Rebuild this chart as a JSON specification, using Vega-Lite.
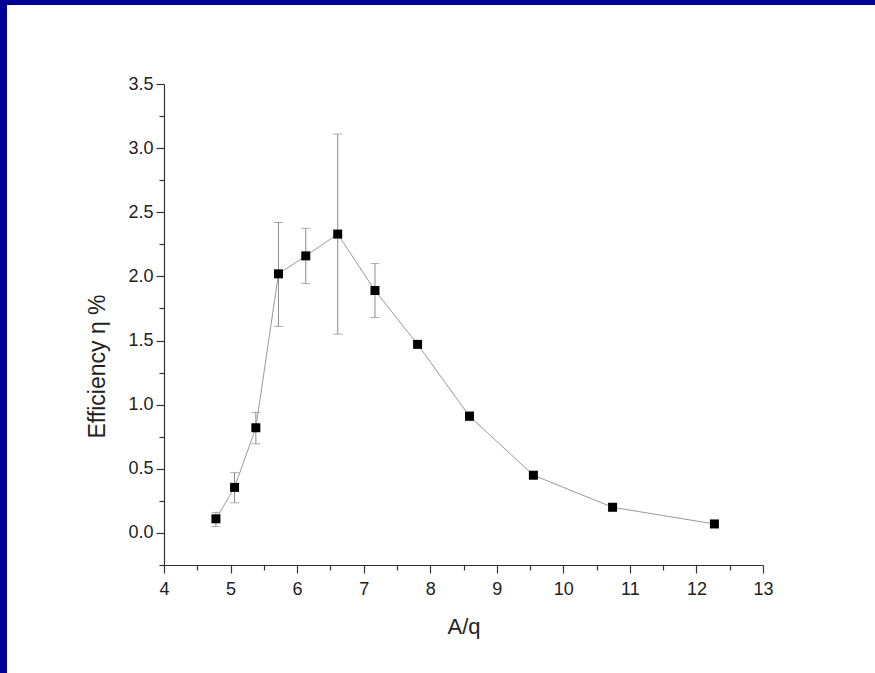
{
  "$schema": "https://vega.github.io/schema/vega-lite/v6.json",
  "width": 599,
  "height": 481,
  "autosize": "none",
  "padding": {"left": 164, "top": 84, "right": 112, "bottom": 108},
  "background": "white",
  "config": {
    "view": {"stroke": null},
    "font": "Liberation Sans",
    "axis": {
      "domainColor": "#333333",
      "domainWidth": 1.2,
      "tickColor": "#333333",
      "tickWidth": 1.2,
      "labelColor": "#222222",
      "labelFontSize": 18,
      "titleColor": "#222222",
      "titleFontSize": 22,
      "titleFontWeight": "normal",
      "grid": false
    }
  },
  "data": {
    "values": [
      {"aq": 4.78, "eff": 0.11, "lo": 0.05, "hi": 0.16},
      {"aq": 5.06, "eff": 0.355, "lo": 0.235, "hi": 0.47},
      {"aq": 5.38, "eff": 0.82, "lo": 0.695, "hi": 0.94},
      {"aq": 5.72, "eff": 2.02, "lo": 1.61, "hi": 2.42},
      {"aq": 6.13, "eff": 2.16, "lo": 1.945, "hi": 2.375},
      {"aq": 6.61, "eff": 2.33, "lo": 1.55, "hi": 3.11},
      {"aq": 7.17, "eff": 1.89, "lo": 1.68, "hi": 2.1},
      {"aq": 7.81, "eff": 1.47, "lo": null, "hi": null},
      {"aq": 8.59, "eff": 0.91, "lo": 0.875, "hi": 0.945},
      {"aq": 9.55, "eff": 0.45, "lo": null, "hi": null},
      {"aq": 10.74, "eff": 0.2, "lo": null, "hi": null},
      {"aq": 12.27, "eff": 0.07, "lo": null, "hi": null}
    ]
  },
  "resolve": {"axis": {"x": "independent", "y": "independent"}},
  "layer": [
    {
      "data": {"values": [{}]},
      "mark": {"type": "rect", "color": "#000099"},
      "encoding": {
        "x": {"datum": 0, "type": "quantitative", "scale": {"domain": [4, 13], "nice": false, "zero": false},
          "axis": {"orient": "bottom", "values": [4.5, 5.5, 6.5, 7.5, 8.5, 9.5, 10.5, 11.5, 12.5], "labels": false, "domain": false, "tickSize": 5, "title": null}},
        "x2": {"datum": 1.641},
        "y": {"datum": -2, "type": "quantitative", "scale": {"domain": [-0.25, 3.5], "nice": false, "zero": false},
          "axis": {"orient": "left", "values": [-0.25, 0.25, 0.75, 1.25, 1.75, 2.25, 2.75, 3.25], "labels": false, "domain": false, "tickSize": 5, "title": null}},
        "y2": {"datum": 6}
      }
    },
    {
      "data": {"values": [{}]},
      "mark": {"type": "rect", "color": "#000099"},
      "encoding": {
        "x": {"datum": 0, "type": "quantitative", "axis": null},
        "x2": {"datum": 16},
        "y": {"datum": 4.116, "type": "quantitative", "axis": null},
        "y2": {"datum": 6}
      }
    },
    {
      "layer": [
        {
          "transform": [{"filter": "datum.lo != null"}],
          "mark": {"type": "errorbar", "ticks": true, "size": 9, "thickness": 1, "color": "#8a8a8a"},
          "encoding": {
            "x": {"field": "aq", "type": "quantitative", "title": "A/q"},
            "y": {"field": "lo", "type": "quantitative", "title": "Efficiency η %"},
            "y2": {"field": "hi"}
          }
        },
        {
          "mark": {"type": "line", "color": "#999999", "strokeWidth": 1},
          "encoding": {
            "x": {"field": "aq", "type": "quantitative", "title": "A/q"},
            "y": {"field": "eff", "type": "quantitative", "title": "Efficiency η %"}
          }
        },
        {
          "mark": {"type": "point", "shape": "square", "filled": true, "size": 81, "color": "black", "opacity": 1},
          "encoding": {
            "x": {"field": "aq", "type": "quantitative", "title": "A/q",
              "axis": {"orient": "bottom", "values": [4, 5, 6, 7, 8, 9, 10, 11, 12, 13], "tickSize": 8, "labelPadding": 7, "format": "d", "titleX": 299.5, "titleY": 68, "titleBaseline": "alphabetic", "labelFlush": false, "labelOverlap": false}},
            "y": {"field": "eff", "type": "quantitative", "title": "Efficiency η %",
              "axis": {"orient": "left", "values": [0, 0.5, 1, 1.5, 2, 2.5, 3, 3.5], "tickSize": 8, "labelPadding": 3, "format": ".1f", "titleX": -60, "titleY": 282, "titleAngle": 270, "titleFontSize": 23, "titleBaseline": "alphabetic", "titleAlign": "center", "labelFlush": false, "labelOverlap": false}}
          }
        }
      ]
    }
  ]
}
